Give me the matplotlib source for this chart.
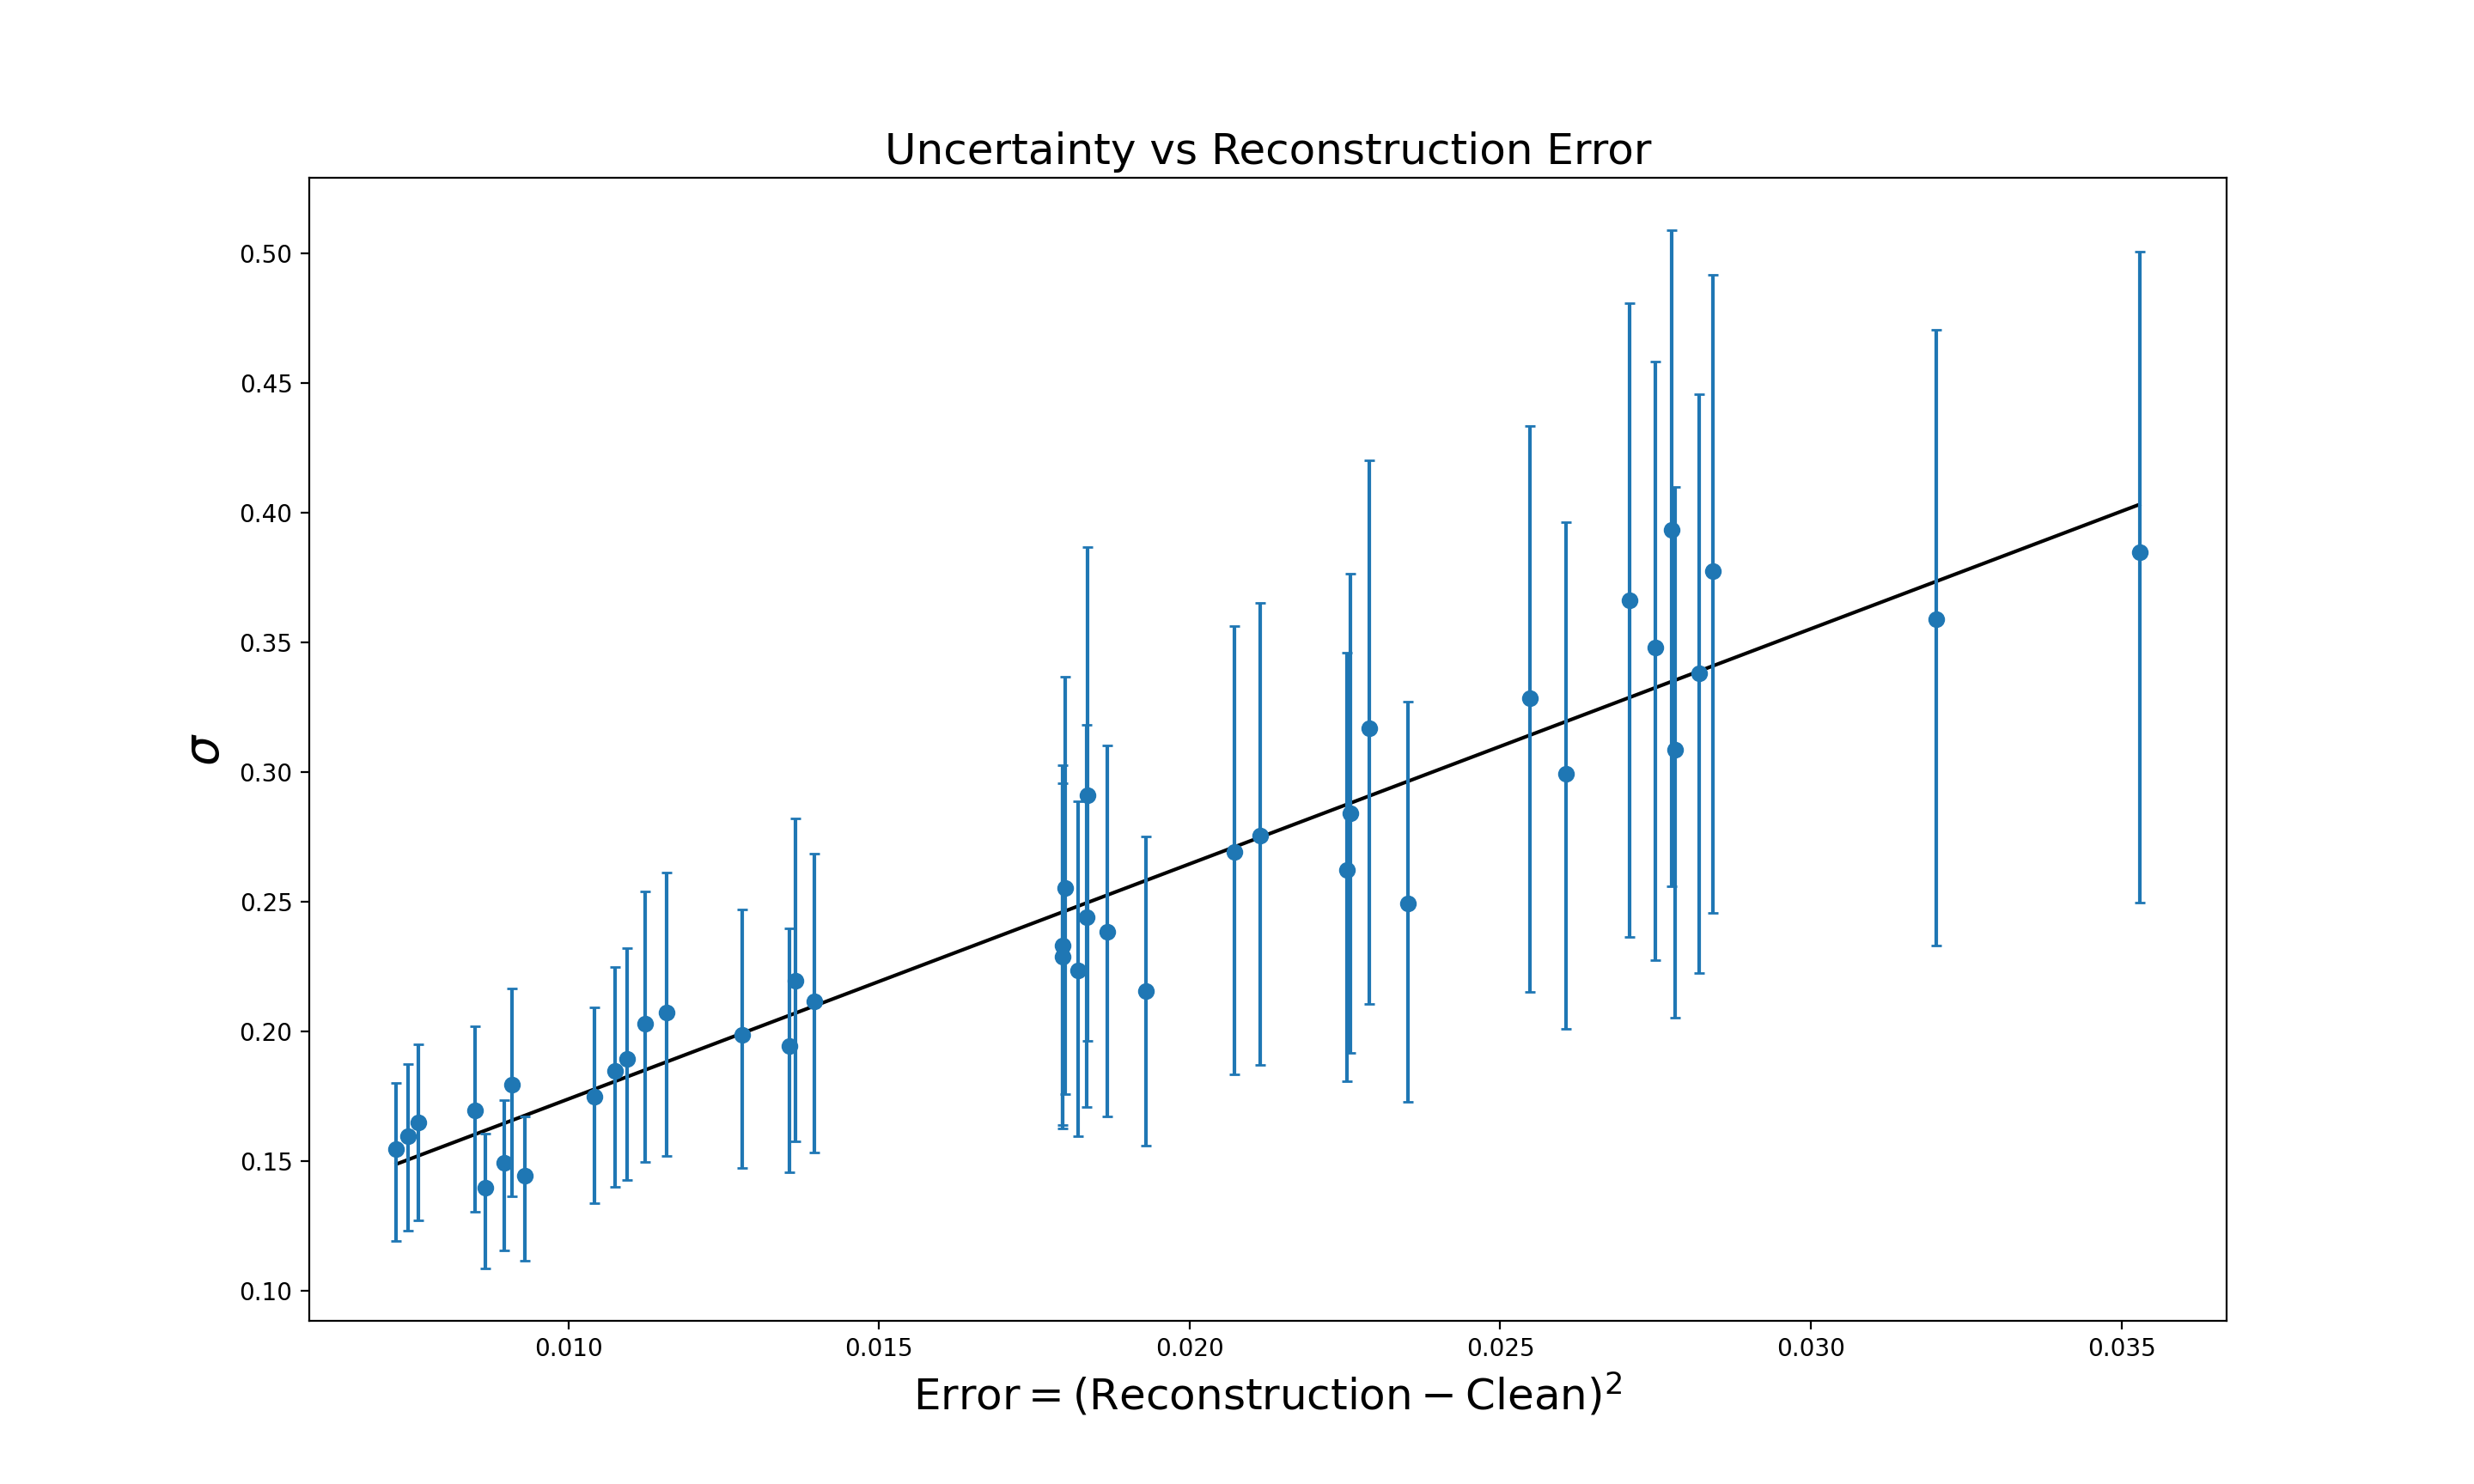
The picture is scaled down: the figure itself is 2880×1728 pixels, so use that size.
import numpy as np
import matplotlib
matplotlib.use("Agg")
import matplotlib.pyplot as plt

# reconstruction error (x)
error = [0.00723, 0.00742, 0.00759, 0.00850, 0.00866, 0.00897, 0.00909, 0.00930,
         0.01042, 0.01075, 0.01095, 0.01123, 0.01158, 0.01280, 0.01356, 0.01365,
         0.01396, 0.01799, 0.01795, 0.01795, 0.01821, 0.01836, 0.01834, 0.01867,
         0.01930, 0.02072, 0.02113, 0.02259, 0.02253, 0.02289, 0.02352, 0.02548,
         0.02606, 0.02708, 0.02749, 0.02776, 0.02781, 0.02820, 0.02843, 0.03202,
         0.03529]
# uncertainty sigma (y)
sigma = [0.1545, 0.1596, 0.1647, 0.1696, 0.1398, 0.1494, 0.1796, 0.1444,
         0.1749, 0.1849, 0.1895, 0.2031, 0.2071, 0.1985, 0.1942, 0.2194,
         0.2117, 0.2553, 0.2331, 0.2289, 0.2236, 0.2912, 0.2440, 0.2383,
         0.2157, 0.2692, 0.2754, 0.2840, 0.2622, 0.3169, 0.2494, 0.3284,
         0.2993, 0.3663, 0.3481, 0.3935, 0.3086, 0.3381, 0.3775, 0.3590,
         0.3848]
# error bar upper ends
sigma_hi = [0.1802, 0.1875, 0.1949, 0.2021, 0.1604, 0.1734, 0.2167, 0.1672,
            0.2093, 0.2247, 0.2321, 0.2540, 0.2613, 0.2469, 0.2396, 0.2820,
            0.2686, 0.3367, 0.3027, 0.2958, 0.2886, 0.3867, 0.3182, 0.3103,
            0.2751, 0.3563, 0.3654, 0.3764, 0.3459, 0.4202, 0.3272, 0.4336,
            0.3963, 0.4808, 0.4585, 0.5091, 0.4100, 0.4458, 0.4918, 0.4706,
            0.5008]
# error bar lower ends
sigma_lo = [0.1193, 0.1232, 0.1270, 0.1303, 0.1084, 0.1154, 0.1365, 0.1114,
            0.1336, 0.1401, 0.1428, 0.1497, 0.1518, 0.1472, 0.1455, 0.1575,
            0.1534, 0.1759, 0.1640, 0.1625, 0.1597, 0.1962, 0.1707, 0.1673,
            0.1558, 0.1835, 0.1872, 0.1918, 0.1806, 0.2105, 0.1728, 0.2153,
            0.2009, 0.2364, 0.2275, 0.2560, 0.2053, 0.2225, 0.2456, 0.2332,
            0.2497]

x = np.array(error)
y = np.array(sigma)
yerr = np.vstack([y - np.array(sigma_lo), np.array(sigma_hi) - y])

fig, ax = plt.subplots(figsize=(14.4, 8.64), dpi=200)

coef = np.polyfit(x, y, 1)
xs = np.array([x.min(), x.max()])
ax.plot(xs, np.polyval(coef, xs), color="black")

ax.errorbar(x, y, yerr=yerr, fmt="o", capsize=2, color="C0")

ax.set_title("Uncertainty vs Reconstruction Error", fontsize=18)
ax.set_xlabel(r"$\mathrm{Error} = (\mathrm{Reconstruction} - \mathrm{Clean})^2$", fontsize=18)
ax.set_ylabel(r"$\sigma$", fontsize=20)

fig.savefig("out.png", dpi=200)
